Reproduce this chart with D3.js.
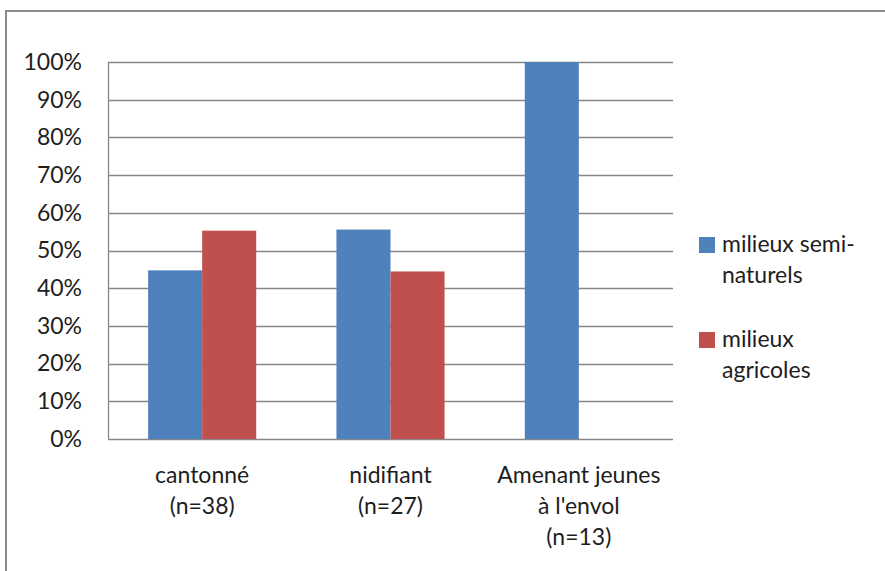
<!DOCTYPE html>
<html>
<head>
<meta charset="utf-8">
<script src="https://cdn.jsdelivr.net/npm/d3@7/dist/d3.min.js"></script>
<style>
  html, body { margin: 0; padding: 0; background: #fff; }
  svg { display: block; font-family: Lato, "Open Sans", sans-serif; }
</style>
</head>
<body>
<svg id="chart" width="885" height="571"></svg>
<script>
// Categories (multi-line labels) and the share of each habitat type
const categories = ["cantonné", "nidifiant", "Amenant jeunes"];
const categoryLabels = [
  ["cantonné", "(n=38)"],
  ["nidifiant", "(n=27)"],
  ["Amenant jeunes", "à l'envol", "(n=13)"]
];
const seriesNames = ["milieux semi-naturels", "milieux agricoles"];
const legendLabels = [["milieux semi-", "naturels"], ["milieux", "agricoles"]];
const semiNaturels = [17 / 38, 15 / 27, 13 / 13];
const agricoles = [21 / 38, 12 / 27, 0 / 13];
const yTicks = [0, 0.1, 0.2, 0.3, 0.4, 0.5, 0.6, 0.7, 0.8, 0.9, 1.0];
const colors = ["#4F81BD", "#C0504D"];

const fontSize = 23;
const textColor = "#1e1e1e";

const svg = d3.select("#chart");

// Outer chart frame
svg.append("rect")
  .attr("x", 6).attr("y", 11)
  .attr("width", 900).attr("height", 600)
  .attr("fill", "#fff")
  .attr("stroke", "#8a8a8a")
  .attr("stroke-width", 2);

const plot = { left: 108, top: 62, right: 673, bottom: 439 };

const x0 = d3.scaleBand()
  .domain(categories)
  .range([plot.left, plot.right])
  .paddingInner(0.426)
  .paddingOuter(0.213);

const x1 = d3.scaleBand()
  .domain(seriesNames)
  .range([0, x0.bandwidth()]);

const y = d3.scaleLinear().domain([0, 1]).range([plot.bottom, plot.top]);

// Horizontal gridlines
svg.append("g")
  .selectAll("line")
  .data(yTicks)
  .join("line")
  .attr("x1", plot.left).attr("x2", plot.right)
  .attr("y1", d => Math.round(y(d)) + 0.5)
  .attr("y2", d => Math.round(y(d)) + 0.5)
  .attr("stroke", "#878787")
  .attr("stroke-width", 1.3);

// Plot area left edge
svg.append("line")
  .attr("x1", plot.left + 0.5).attr("x2", plot.left + 0.5)
  .attr("y1", plot.top).attr("y2", plot.bottom)
  .attr("stroke", "#878787").attr("stroke-width", 1.3);

// Y axis labels
const yAxis = d3.axisLeft(y)
  .tickValues(yTicks)
  .tickFormat(d3.format(".0%"))
  .tickSize(0)
  .tickPadding(26);

const yg = svg.append("g")
  .attr("transform", `translate(${plot.left},0)`)
  .call(yAxis);
yg.select(".domain").remove();
yg.selectAll("text")
  .attr("font-size", fontSize)
  .attr("font-family", "Lato, 'Open Sans', sans-serif")
  .attr("fill", textColor);

// Bars
const rows = categories.map((c, i) => ({ cat: c, values: [semiNaturels[i], agricoles[i]] }));

svg.append("g")
  .selectAll("g")
  .data(rows)
  .join("g")
  .attr("transform", d => `translate(${x0(d.cat)},0)`)
  .selectAll("rect")
  .data(d => d.values.map((v, j) => ({ v, j })))
  .join("rect")
  .attr("x", d => x1(seriesNames[d.j]))
  .attr("width", x1.bandwidth())
  .attr("y", d => y(d.v))
  .attr("height", d => y(0) - y(d.v))
  .attr("fill", d => colors[d.j]);

// Category labels
const xg = svg.append("g");
categoryLabels.forEach((lines, i) => {
  const cx = x0(categories[i]) + x0.bandwidth() / 2;
  const t = xg.append("text")
    .attr("text-anchor", "middle")
    .attr("font-size", fontSize)
    .attr("fill", textColor);
  lines.forEach((ln, k) => {
    t.append("tspan").attr("x", cx).attr("y", 483 + k * 31).text(ln);
  });
});

// Legend
const legend = svg.append("g");
legendLabels.forEach((lines, i) => {
  const top = 237 + i * 95;
  legend.append("rect")
    .attr("x", 699).attr("y", top)
    .attr("width", 16).attr("height", 16)
    .attr("fill", colors[i]);
  const t = legend.append("text")
    .attr("font-size", fontSize)
    .attr("fill", textColor);
  lines.forEach((ln, k) => {
    t.append("tspan").attr("x", 722).attr("y", top + 15 + k * 31).text(ln);
  });
});
</script>
</body>
</html>
